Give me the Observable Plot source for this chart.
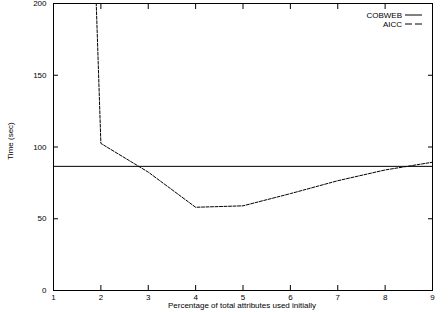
<!DOCTYPE html>
<html>
<head>
<meta charset="utf-8">
<script src="https://cdn.jsdelivr.net/npm/d3@7"></script>
<script src="https://cdn.jsdelivr.net/npm/@observablehq/plot@0.6"></script>
<style>
  html, body { margin: 0; padding: 0; background: #fff; }
  #chart { width: 448px; height: 312px; overflow: hidden; }
</style>
</head>
<body>
<div id="chart"></div>
<script>
const xTicks = [1, 2, 3, 4, 5, 6, 7, 8, 9];
const yTicks = [0, 50, 100, 150, 200];
const aiccX = [1, 2, 3, 4, 5, 6, 7, 8, 9];
const aiccY = [1100, 102.5, 82.5, 58, 59, 67.5, 76.5, 84, 89.4];
const cobwebY = 86.5;
const seriesNames = ["COBWEB", "AICC"];
const xTitle = "Percentage of total attributes used initially";
const yTitle = "Time (sec)";

const aicc = aiccX.map((x, i) => ({x, y: aiccY[i]}));
const font = "Liberation Sans, Arial, sans-serif";
const fs = "8px";

const plot = Plot.plot({
  width: 448,
  height: 312,
  marginLeft: 53,
  marginRight: 16,
  marginTop: 3,
  marginBottom: 22,
  style: {fontFamily: font, fontSize: fs, background: "#fff", color: "#000"},
  x: {domain: [1, 9]},
  y: {domain: [0, 200]},
  marks: [
    Plot.axisX(xTicks, {anchor: "bottom", tickSize: -5, tickPadding: 9, label: null, tickFormat: d => String(d), fill: "#000"}),
    Plot.axisX(xTicks, {anchor: "top", tickSize: -5, label: null, tickFormat: () => ""}),
    Plot.axisY(yTicks, {anchor: "left", tickSize: -5, tickPadding: 12, label: null, tickFormat: d => String(d), fill: "#000"}),
    Plot.axisY(yTicks, {anchor: "right", tickSize: -5, label: null, tickFormat: () => ""}),
    Plot.ruleY([cobwebY], {stroke: "#000", strokeWidth: 1}),
    Plot.line(aicc, {x: "x", y: "y", stroke: "#000", strokeWidth: 1, strokeDasharray: "3,1.5", clip: true}),
    Plot.frame({stroke: "#000", strokeWidth: 1})
  ]
});

const svg = d3.select(plot);
// axis titles
svg.append("text")
  .attr("x", 242).attr("y", 308)
  .attr("text-anchor", "middle")
  .attr("font-family", font).attr("font-size", fs).attr("fill", "#000")
  .text(xTitle);
svg.append("text")
  .attr("transform", "translate(13,141) rotate(-90)")
  .attr("text-anchor", "middle")
  .attr("font-family", font).attr("font-size", fs).attr("fill", "#000")
  .text(yTitle);
// legend
const dashes = [null, "7,3"];
seriesNames.forEach((name, i) => {
  const y = 15 + i * 9;
  svg.append("text")
    .attr("x", 402).attr("y", y).attr("dy", "0.35em")
    .attr("text-anchor", "end")
    .attr("font-family", font).attr("font-size", fs).attr("fill", "#000")
    .text(name);
  svg.append("line")
    .attr("x1", 405).attr("x2", 422).attr("y1", y).attr("y2", y)
    .attr("stroke", "#000").attr("stroke-width", 1)
    .attr("stroke-dasharray", dashes[i]);
});

document.getElementById("chart").appendChild(plot);
</script>
</body>
</html>
